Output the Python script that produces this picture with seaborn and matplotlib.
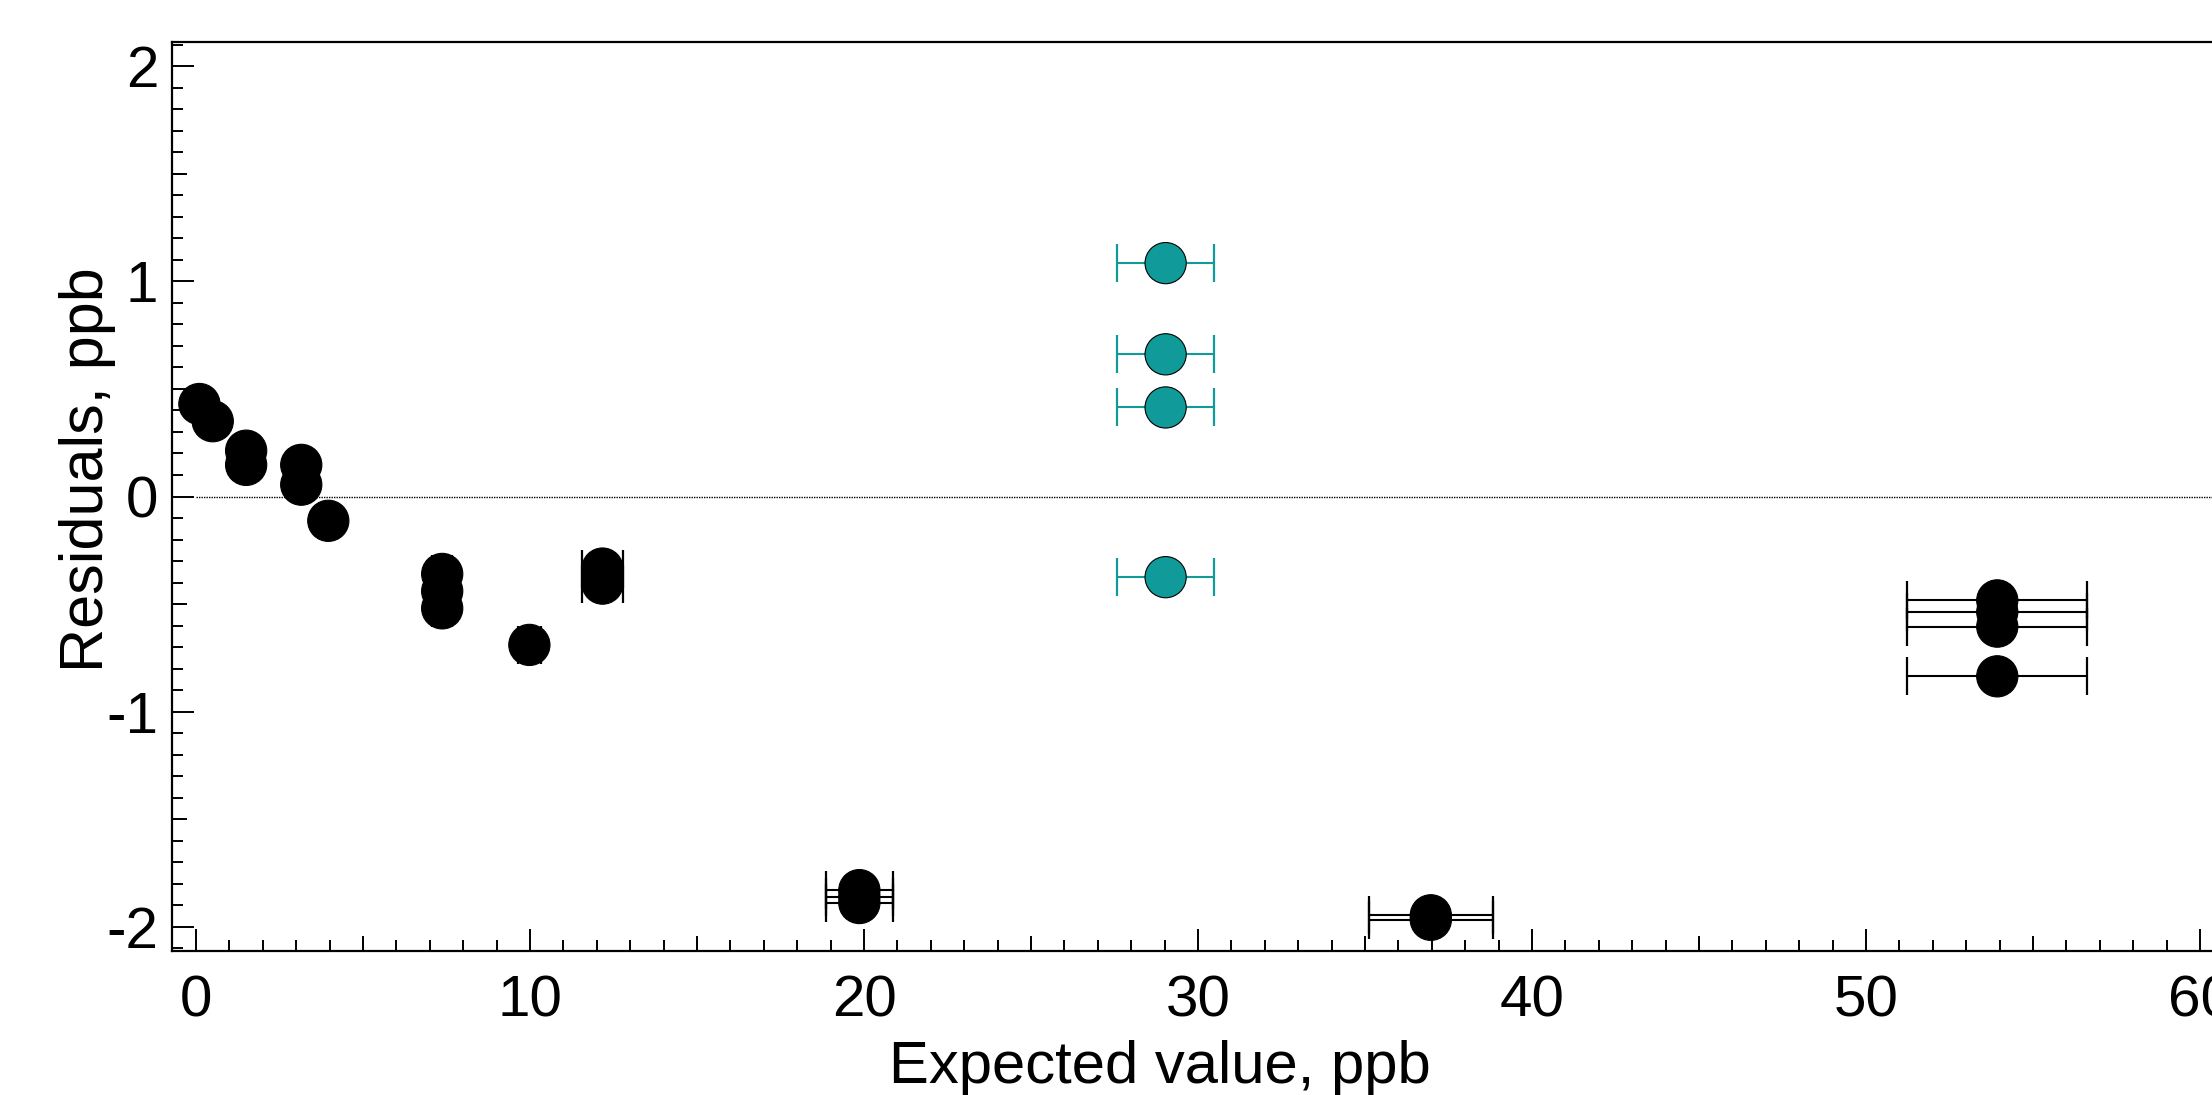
import matplotlib
matplotlib.use("Agg")
import matplotlib.pyplot as plt
import seaborn as sns
import pandas as pd
from matplotlib.ticker import MultipleLocator, NullLocator

# ---- data ----
black_expected = [0.1, 0.5, 1.5, 1.5, 3.15, 3.15, 3.96,
                  7.37, 7.37, 7.37, 9.98, 12.17, 12.17,
                  19.86, 19.86, 19.86, 36.97, 36.97,
                  53.93, 53.93, 53.93, 53.93]
black_residual = [0.43, 0.35, 0.213, 0.147, 0.147, 0.055, -0.113,
                  -0.36, -0.44, -0.52, -0.69, -0.335, -0.405,
                  -1.83, -1.86, -1.89, -1.947, -1.968,
                  -0.483, -0.537, -0.605, -0.836]
black_xerr = [0.005, 0.025, 0.075, 0.075, 0.16, 0.16, 0.2,
              0.3, 0.3, 0.3, 0.35, 0.6, 0.6,
              1.0, 1.0, 1.0, 1.86, 1.86,
              2.69, 2.69, 2.69, 2.69]

teal_expected = [29.03, 29.03, 29.03, 29.03]
teal_residual = [1.085, 0.661, 0.414, -0.375]
teal_xerr = [1.46, 1.46, 1.46, 1.46]

group_names = ["included", "excluded"]
colors = {"included": "#000000", "excluded": "#109a9a"}

x_ticks = [0, 10, 20, 30, 40, 50, 60]
y_ticks = [-2, -1, 0, 1, 2]

df = pd.DataFrame({
    "Expected": black_expected + teal_expected,
    "Residual": black_residual + teal_residual,
    "xerr": black_xerr + teal_xerr,
    "group": [group_names[0]] * len(black_expected) + [group_names[1]] * len(teal_expected),
})

sns.set_theme(style="white")
plt.rcParams["font.family"] = ["Liberation Sans", "DejaVu Sans"]
plt.rcParams["axes.unicode_minus"] = False

W, H = 2212, 1095
fig = plt.figure(figsize=(W / 100, H / 100), dpi=100)
left, top, bottom = 172 / W, 42 / H, 951 / H
ax = fig.add_axes([left, 1 - bottom, 1 - left, bottom - top])

# error bars (behind markers)
for g in group_names:
    sub = df[df["group"] == g]
    ax.errorbar(sub["Expected"], sub["Residual"], xerr=sub["xerr"], fmt="none",
                ecolor=colors[g], elinewidth=1.5, capsize=14, capthick=1.6, zorder=2)

# zero reference line
ax.hlines(0, 0, 61, colors="black", linestyles=(0, (1, 0.8)), linewidth=1.0, zorder=1)

sns.scatterplot(data=df, x="Expected", y="Residual", hue="group", palette=colors,
                s=880, edgecolor="black", linewidth=0.8, legend=False, ax=ax, zorder=3)

ax.set_xlim(-0.72, (W - 196) / 33.4)
ax.set_ylim(-2.113, 2.113)

ax.set_xticks(x_ticks)
ax.set_yticks(y_ticks)
ax.set_xticklabels([str(v) for v in x_ticks])
ax.set_yticklabels([str(v) for v in y_ticks])
ax.xaxis.set_minor_locator(MultipleLocator(1))
ax.yaxis.set_minor_locator(MultipleLocator(0.1))

for s in ["left", "bottom", "top"]:
    ax.spines[s].set_visible(True)
    ax.spines[s].set_color("black")
    ax.spines[s].set_linewidth(1.6)
ax.spines["right"].set_visible(False)

ax.tick_params(axis="both", which="both", direction="in", color="black",
               bottom=True, left=True, top=False, right=False, width=1.4)
ax.tick_params(axis="x", which="major", length=16, pad=17, labelsize=42, labelcolor="black")
ax.tick_params(axis="x", which="minor", length=8)
ax.tick_params(axis="y", which="major", length=16, pad=10, labelsize=42, labelcolor="black")
ax.tick_params(axis="y", which="minor", length=8)

# medium ticks at the half-decades
secx = ax.secondary_xaxis("bottom")
secx.set_xticks([5, 15, 25, 35, 45, 55])
secx.xaxis.set_minor_locator(NullLocator())
secx.tick_params(direction="in", bottom=True, length=11, width=1.4, color="black", labelbottom=False)
secx.spines["bottom"].set_visible(False)
secy = ax.secondary_yaxis("left")
secy.set_yticks([-1.5, -0.5, 0.5, 1.5])
secy.yaxis.set_minor_locator(NullLocator())
secy.tick_params(direction="in", left=True, length=11, width=1.4, color="black", labelleft=False)
secy.spines["left"].set_visible(False)

ax.set_xlabel("Expected value, ppb", fontsize=43, color="black")
ax.set_ylabel("Residuals, ppb", fontsize=44, color="black")
ax.xaxis.set_label_coords(1160 / W, 1 - 1083 / H, transform=fig.transFigure)
ax.xaxis.label.set_verticalalignment("baseline")
ax.yaxis.set_label_coords(88 / W, 1 - 470 / H, transform=fig.transFigure)
ax.yaxis.label.set_verticalalignment("center")
ax.yaxis.label.set_horizontalalignment("center")

fig.savefig("out.png", dpi=100, facecolor="white")
